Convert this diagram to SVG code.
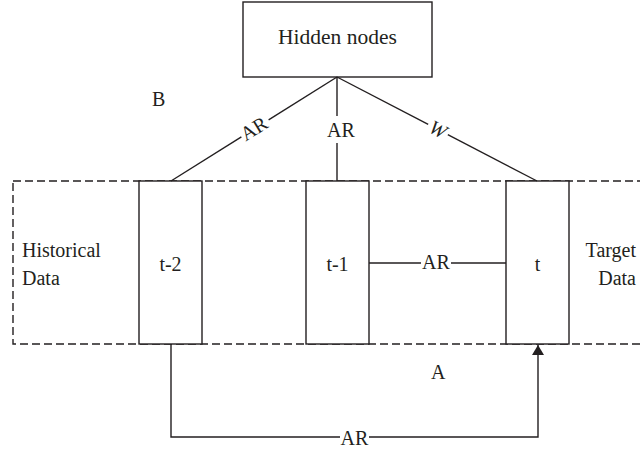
<svg xmlns="http://www.w3.org/2000/svg" width="640" height="451" viewBox="0 0 640 451">
<style>
  .box { fill: #fff; stroke: #231f20; stroke-width: 1.4; }
  .dash { fill: none; stroke: #231f20; stroke-width: 1.4; stroke-dasharray: 8 4; }
  .ln { fill: none; stroke: #231f20; stroke-width: 1.4; }
  text { font-family: 'Liberation Serif', 'Times New Roman', serif; font-size: 20px; fill: #231f20; }
  .c { text-anchor: middle; }
</style>
<defs>
  <marker id="arr" viewBox="0 0 10 12" refX="10" refY="6" markerWidth="10" markerHeight="12" markerUnits="userSpaceOnUse" orient="auto">
    <path d="M0,0 L10,6 L0,12 Z" fill="#231f20"/>
  </marker>
</defs>
<rect width="640" height="451" fill="#fff"/>

<g id="region-dashed">
  <rect class="dash" x="13" y="181" width="640" height="163"/>
</g>

<g id="hidden-nodes">
  <rect class="box" x="243" y="2" width="189" height="75"/>
  <text class="c" x="337.5" y="44" style="font-size:21.5px">Hidden nodes</text>
</g>

<g id="t-2">
  <rect class="box" x="139" y="181" width="63" height="163"/>
  <text class="c" x="170.5" y="271">t-2</text>
</g>

<g id="t-1">
  <rect class="box" x="306" y="181" width="63" height="163"/>
  <text class="c" x="337.5" y="271">t-1</text>
</g>

<g id="t">
  <rect class="box" x="506" y="181" width="63" height="163"/>
  <text class="c" x="537.5" y="271">t</text>
</g>

<g id="labels">
  <text x="22" y="257">Historical</text>
  <text x="22" y="285">Data</text>
  <text x="636" y="257" text-anchor="end">Target</text>
  <text x="636" y="285" text-anchor="end">Data</text>
  <text x="152" y="106">B</text>
  <text x="431" y="379">A</text>
</g>

<g id="connectors">
  <line class="ln" x1="337" y1="77" x2="268.6" y2="119.8"/>
  <line class="ln" x1="241.4" y1="136.9" x2="171" y2="181"/>
  <text class="c" x="255" y="135" transform="rotate(-32 255 130)">AR</text>

  <line class="ln" x1="337" y1="77" x2="337" y2="116"/>
  <line class="ln" x1="337" y1="143" x2="337" y2="181"/>
  <text class="c" x="341" y="137">AR</text>

  <line class="ln" x1="337" y1="77" x2="428.2" y2="124.4"/>
  <line class="ln" x1="447.8" y1="134.6" x2="537" y2="181"/>
  <text class="c" x="438" y="136" font-style="italic" transform="rotate(27.5 438 129.5)">W</text>

  <line class="ln" x1="369" y1="263" x2="421" y2="263"/>
  <line class="ln" x1="451" y1="263" x2="506" y2="263"/>
  <text class="c" x="436" y="269">AR</text>

  <polyline class="ln" points="171,344 171,437 340,437"/>
  <polyline class="ln" points="369,437 538,437 538,345" marker-end="url(#arr)"/>
  <text class="c" x="354.5" y="445">AR</text>
</g>
</svg>
